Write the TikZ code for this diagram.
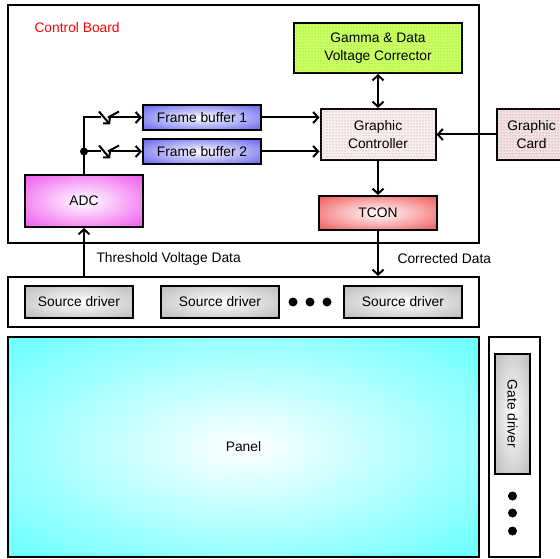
\documentclass[tikz,border=0pt]{standalone}
\usepackage{fontspec}
\setmainfont{Liberation Sans}
\usetikzlibrary{arrows.meta, positioning, patterns}

\definecolor{fbblue}{RGB}{105,105,240}
\definecolor{adcpink}{RGB}{240,95,240}
\definecolor{tconred}{RGB}{240,95,95}
\definecolor{drvgray}{RGB}{190,190,190}
\definecolor{panelcyan}{RGB}{110,255,255}
\definecolor{gammafill}{RGB}{205,255,100}
\definecolor{gammadot}{RGB}{100,210,30}
\definecolor{ctrlfill}{RGB}{248,240,240}
\definecolor{ctrldot}{RGB}{185,120,120}
\definecolor{cardfill}{RGB}{242,228,228}
\definecolor{carddot}{RGB}{185,100,100}

% white centre fading to the outer colour before the border
\makeatletter
\pgfdeclareradialshading[tikz@radial@inner,tikz@radial@outer]{glow}{\pgfpoint{0bp}{0bp}}{color(0bp)=(tikz@radial@inner); color(34bp)=(tikz@radial@outer); color(50bp)=(tikz@radial@outer)}
\makeatother

\begin{document}
\begin{tikzpicture}[
        x=1pt, y=-1pt,
        every node/.style={font=\fontsize{13.8}{17.5}\selectfont},
        frame/.style={draw, line width=2pt, inner sep=0pt},
        block/.style={draw, line width=2pt, align=center, inner sep=0pt},
        glowbox/.style={block, inner color=white, outer color=#1, shading=glow},
        dotbox/.style 2 args={block, fill=#1, postaction={pattern=dots, pattern color=#2}},
        fbbox/.style={glowbox=fbblue, minimum width=118pt, minimum height=25pt},
        drvbox/.style={glowbox=drvgray, minimum height=32pt},
        wire/.style={line width=2pt},
        arr/.style={wire, -{Straight Barb[length=5pt, width=11pt]}},
        darr/.style={wire, {Straight Barb[length=5pt, width=11pt]}-{Straight Barb[length=5pt, width=11pt]}},
        dot/.style={circle, fill, inner sep=0pt, minimum size=9pt},
    ]
    \useasboundingbox (0,0) rectangle (560,559);
    \clip (0,0) rectangle (560,559);

    %% ===== Control board =====
    \node[frame, minimum width=471pt, minimum height=238pt] (board) at (243.5,124) {};
    \node[anchor=west, text=red] (boardlbl) at (31,28) {Control Board};

    \node[dotbox={gammafill}{gammadot}, minimum width=168pt, minimum height=50pt] (gamma) at (378,48) {Gamma \& Data\\Voltage Corrector};
    \node[dotbox={ctrlfill}{ctrldot}, below=34pt of gamma, minimum width=115pt, minimum height=51pt] (gc) {Graphic\\Controller};
    \node[glowbox=tconred, below=34pt of gc, minimum width=118pt, minimum height=34pt] (tcon) {TCON};
    \node[dotbox={cardfill}{carddot}, right=59pt of gc, minimum width=70pt, minimum height=51pt] (card) {Graphic\\Card};

    \node[fbbox] (fb1) at (202,117.5) {Frame buffer 1};
    \node[fbbox, below=7pt of fb1] (fb2) {Frame buffer 2};
    \node[glowbox=adcpink, minimum width=118pt, minimum height=52pt] (adc) at (84,201) {ADC};

    %% ===== Source driver row =====
    \node[frame, minimum width=471pt, minimum height=50pt] (src) at (243.5,302) {};
    \node[drvbox, minimum width=108pt] (sd1) at (79,302) {Source driver};
    \node[drvbox, right=26pt of sd1, minimum width=118pt] (sd2) {Source driver};
    \node[drvbox, minimum width=118pt] (sd3) at (403,302) {Source driver};
    \foreach \i/\x in {1/293, 2/310, 3/327}
        \node[dot] (sdot\i) at (\x,302) {};

    %% ===== Panel and gate side =====
    \node[frame, glowbox=panelcyan, minimum width=471pt, minimum height=220pt] (panel) at (243.5,447) {Panel};
    \node[frame, right=8pt of panel, minimum width=51pt, minimum height=220pt] (gateframe) {};
    \node[drvbox, rotate=-90, minimum width=120pt, minimum height=35pt] (gate) at (512.5,414) {Gate driver};
    \foreach \i/\y in {1/496, 2/513, 3/531}
        \node[dot] (gdot\i) at (512.5,\y) {};

    %% ===== Data paths =====
    \draw[darr] (gamma) -- (gc);
    \draw[arr] (gc) -- (tcon);
    \draw[arr] (card) -- (gc);
    \draw[arr] (fb1.east) -- (fb1.east -| gc.west);
    \draw[arr] (fb2.east) -- (fb2.east -| gc.west);
    \draw[arr] (tcon.south) -- (tcon.south |- src.north);
    \draw[arr] (adc.south |- src.north) -- (adc.south);

    \node[anchor=west] (thrlbl) at (93,259) {Threshold Voltage Data};
    \node[anchor=west] (corlbl) at (394,259) {Corrected Data};

    %% ADC output split into the two frame buffers, each behind a switch
    \coordinate (split) at (adc.north |- fb2.west);
    \draw[wire] (adc.north) -- (adc.north |- fb1.west) -- ++(17,0) coordinate (sw1);
    \draw[wire] (split) -- ++(17,0) coordinate (sw2);
    \fill (split) circle (4pt);
    \foreach \s/\fb in {sw1/fb1, sw2/fb2} {
        \draw[wire, -{Straight Barb[length=4pt, width=9pt]}] ([shift={(-2,-6)}]\s) -- ++(11,13);
        \draw[wire] ([xshift=7pt]\s) -- ++(11,-6);
        \draw[arr] ([xshift=7pt]\s) -- (\fb.west);
    }

\end{tikzpicture}
\end{document}
